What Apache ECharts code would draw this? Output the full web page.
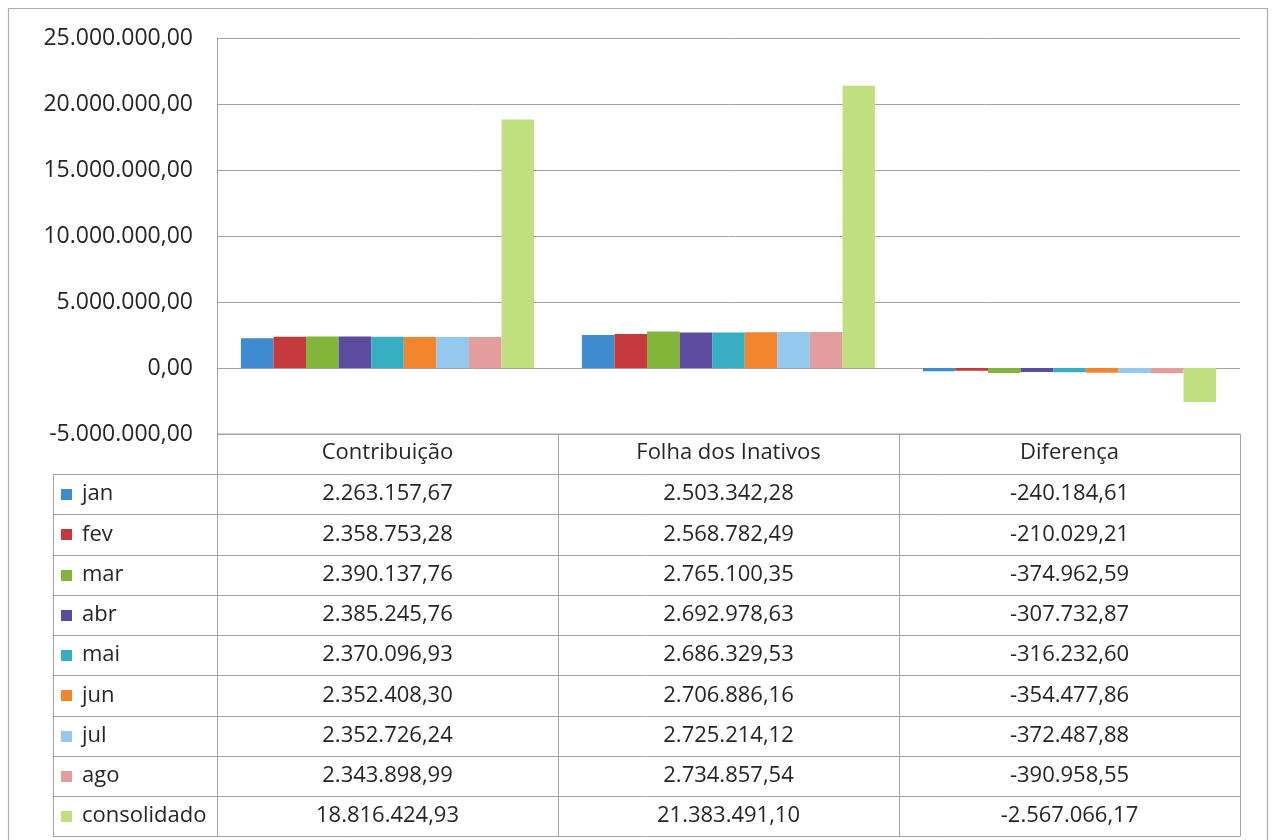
<!DOCTYPE html>
<html>
<head>
<meta charset="utf-8">
<script src="https://cdn.jsdelivr.net/npm/echarts@6/dist/echarts.min.js"></script>
<style>
  html, body { margin: 0; padding: 0; background: #fff; }
  #main { width: 1276px; height: 840px; }
</style>
</head>
<body>
<div id="main"></div>
<script>
const categorias = ['Contribuição', 'Folha dos Inativos', 'Diferença'];
const meses = ['jan', 'fev', 'mar', 'abr', 'mai', 'jun', 'jul', 'ago', 'consolidado'];
const contribuicao = [2263157.67, 2358753.28, 2390137.76, 2385245.76, 2370096.93, 2352408.30, 2352726.24, 2343898.99, 18816424.93];
const folha = [2503342.28, 2568782.49, 2765100.35, 2692978.63, 2686329.53, 2706886.16, 2725214.12, 2734857.54, 21383491.10];
const diferenca = [-240184.61, -210029.21, -374962.59, -307732.87, -316232.60, -354477.86, -372487.88, -390958.55, -2567066.17];
const cores = ['#3E8BCF', '#C4393C', '#82B53A', '#5B4C9F', '#38AEC3', '#F2852D', '#95C8EF', '#E39D9C', '#C0E07F'];
const yMin = -5000000, yMax = 25000000, yStep = 5000000;

const fonte = '"Open Sans", "Noto Sans", sans-serif';
const corLinha = '#a3a3a3';
const corTexto = '#262626';

// formato brasileiro: 2.263.157,67
function fmt(v) {
  const neg = v < 0;
  const partes = Math.abs(v).toFixed(2).split('.');
  const inteiro = partes[0].replace(/\B(?=(\d{3})+(?!\d))/g, '.');
  return (neg ? '-' : '') + inteiro + ',' + partes[1];
}

const chart = echarts.init(document.getElementById('main'));

const option = {
  animation: false,
  backgroundColor: '#fff',
  grid: { left: 217, right: 36, top: 38, bottom: 406 },
  xAxis: {
    type: 'category',
    data: categorias,
    axisLine: { show: false, onZero: false },
    axisTick: { show: false },
    axisLabel: { margin: 8, fontSize: 22, fontFamily: fonte, color: corTexto }
  },
  yAxis: {
    type: 'value',
    min: yMin, max: yMax, interval: yStep,
    axisLine: { show: true, lineStyle: { color: corLinha } },
    axisTick: { show: false },
    splitLine: { lineStyle: { color: corLinha } },
    axisLabel: { margin: 24, fontSize: 23, fontFamily: fonte, color: corTexto, formatter: fmt }
  },
  series: meses.map((m, i) => ({
    name: m,
    type: 'bar',
    barGap: '0%',
    barCategoryGap: '14%',
    itemStyle: { color: cores[i] },
    data: [contribuicao[i], folha[i], diferenca[i]]
  }))
};
chart.setOption(option);

// tabela de dados abaixo do gráfico, alinhada às categorias do eixo
function montarTabela() {
  const c0 = chart.convertToPixel({ xAxisIndex: 0 }, 0);
  const c1 = chart.convertToPixel({ xAxisIndex: 0 }, 1);
  const c2 = chart.convertToPixel({ xAxisIndex: 0 }, 2);
  const banda = c1 - c0;
  const xs = [c0 - banda / 2, c0 + banda / 2, c1 + banda / 2, c2 + banda / 2];
  const centros = [c0, c1, c2];
  const topo = chart.convertToPixel({ yAxisIndex: 0 }, yMin);
  const altCab = 40;
  const altLinha = 40.25;
  const xLeg = 53;
  const y0 = topo + altCab;
  const yFim = y0 + altLinha * meses.length;
  const g = [];
  const linha = (x1, y1, x2, y2) => g.push({
    type: 'line', silent: true,
    shape: { x1: x1, y1: y1, x2: x2, y2: y2 },
    style: { stroke: corLinha, lineWidth: 1 }
  });

  // moldura externa
  g.push({ type: 'rect', silent: true, shape: { x: 8.5, y: 8.5, width: 1259, height: 845 },
    style: { fill: null, stroke: '#a9b0b4', lineWidth: 1.2 } });

  linha(xs[0], topo, xs[3], topo);
  for (let r = 0; r <= meses.length; r++) {
    const y = Math.round(y0 + r * altLinha) + 0.5;
    linha(xLeg, y, xs[3], y);
  }
  linha(xLeg + 0.5, y0, xLeg + 0.5, yFim);
  xs.forEach(x => linha(Math.round(x) + 0.5, topo, Math.round(x) + 0.5, yFim));

  const valores = [contribuicao, folha, diferenca];
  meses.forEach((m, i) => {
    const yc = y0 + altLinha * (i + 0.5);
    g.push({ type: 'rect', silent: true,
      shape: { x: 61, y: Math.round(yc - 5), width: 11, height: 11 },
      style: { fill: cores[i] } });
    g.push({ type: 'text', silent: true, x: 82, y: yc,
      style: { text: m, fontSize: 22, fontFamily: fonte, fill: corTexto,
        align: 'left', verticalAlign: 'middle' } });
    valores.forEach((serie, k) => {
      g.push({ type: 'text', silent: true, x: centros[k], y: yc,
        style: { text: fmt(serie[i]), fontSize: 22, fontFamily: fonte, fill: corTexto,
          align: 'center', verticalAlign: 'middle' } });
    });
  });
  chart.setOption({ graphic: g });
}
montarTabela();
</script>
</body>
</html>
